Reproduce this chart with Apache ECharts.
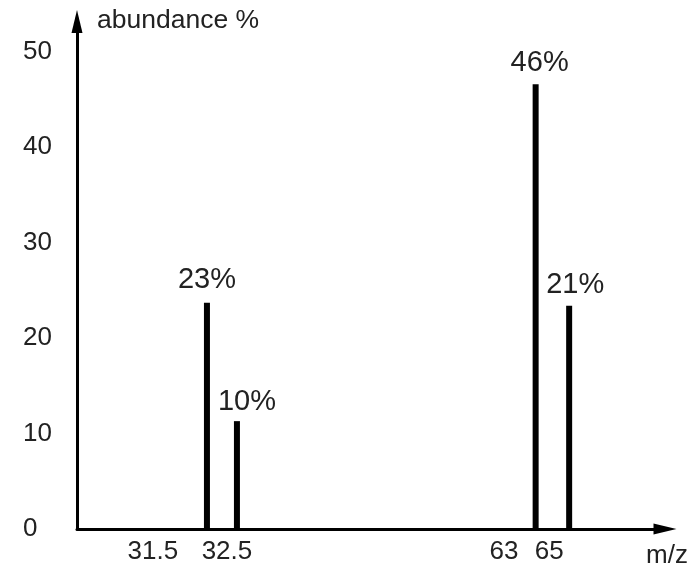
<!DOCTYPE html>
<html><head><meta charset="utf-8">
<script src="https://cdn.jsdelivr.net/npm/echarts@6/dist/echarts.min.js"></script>
<style>html,body{margin:0;padding:0;background:#fff}#c{width:697px;height:569px}</style>
</head><body><div id="c"></div>
<script>
// Schematic mass spectrum: peak positions are in schematic axis units (0-100)
const peakPosition = [22.1, 27.2, 78.0, 83.7];
const peakAbundance = [23.7, 11.3, 46.6, 23.4];
const peakLabels = ['23%', '10%', '46%', '21%'];
const xTickPosition = [12.9, 25.5, 72.6, 80.3];
const xTickLabels = ['31.5', '32.5', '63', '65'];
const yTickValues = [0, 10, 20, 30, 40, 50];

const FONT = '"Liberation Sans", Arial, sans-serif';
const TXT = '#222';
const labelNudge = [[0, -2], [10, 2], [4, 0], [6, 0]];

const chart = echarts.init(document.getElementById('c'), null, {renderer: 'canvas'});
chart.setOption({
  animation: false,
  backgroundColor: '#fff',
  grid: {left: 77, right: 32, top: 21.5, bottom: 35.5},
  xAxis: {
    type: 'value', min: 0, max: 100,
    name: 'm/z', nameLocation: 'end', nameGap: 2,
    nameTextStyle: {fontFamily: FONT, fontSize: 26, color: TXT, align: 'center', verticalAlign: 'top', padding: [14, 0, 0, 0]},
    axisLine: {show: true, lineStyle: {color: '#000', width: 3}, symbol: ['none', 'triangle'], symbolSize: [11, 23]},
    axisTick: {show: false},
    splitLine: {show: false},
    axisLabel: {
      customValues: xTickPosition,
      fontFamily: FONT, fontSize: 26, color: TXT, margin: 10,
      formatter: v => { const i = xTickPosition.indexOf(v); return i >= 0 ? xTickLabels[i] : ''; }
    }
  },
  yAxis: {
    type: 'value', min: 0, max: 53.17,
    name: 'abundance %', nameLocation: 'end', nameGap: 1,
    nameTextStyle: {fontFamily: FONT, fontSize: 26.5, color: TXT, align: 'left', verticalAlign: 'middle', padding: [0, 0, 0, 20]},
    axisLine: {show: true, lineStyle: {color: '#000', width: 3}, symbol: ['none', 'triangle'], symbolSize: [11, 23]},
    axisTick: {show: false},
    splitLine: {show: false},
    axisLabel: {
      customValues: yTickValues,
      fontFamily: FONT, fontSize: 26, color: TXT, margin: 54, align: 'left'
    }
  },
  series: [{
    type: 'bar',
    barWidth: 6,
    itemStyle: {color: '#000'},
    data: peakPosition.map((x, i) => ({
      value: [x, peakAbundance[i]],
      label: {
        show: true, position: 'top', distance: 6.5,
        offset: labelNudge[i],
        formatter: peakLabels[i],
        fontFamily: FONT, fontSize: 29, color: TXT
      }
    }))
  }]
});
</script></body></html>
